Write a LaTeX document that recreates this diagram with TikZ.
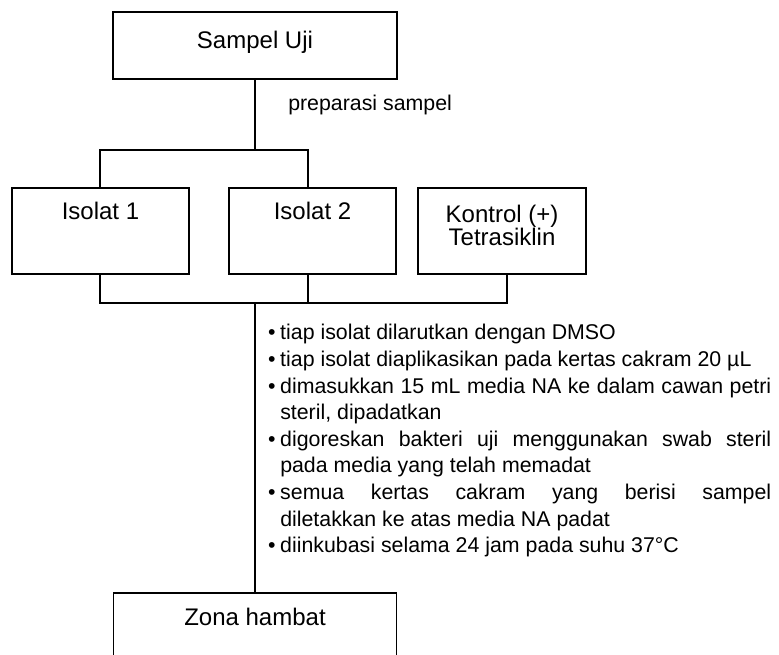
\documentclass[tikz,border=0pt]{standalone}
\usepackage{fontspec}
\setmainfont{Liberation Sans}

\newcommand{\stepitem}{\par\noindent\llap{\textbullet\hspace{3.5pt}}}

\begin{document}
\begin{tikzpicture}[x=0.75pt, y=-0.75pt,
  box/.style={draw, line width=1.3pt, inner sep=0pt, outer sep=0pt,
    anchor=north west, align=center,
    font=\fontsize{18}{16.5}\selectfont},
  conn/.style={line width=1.3pt},
  note/.style={inner sep=0pt, font=\fontsize{16}{19.95}\selectfont}]
\path[use as bounding box, clip] (0,0) rectangle (779,655);

% boxes
\node[box, minimum width=213pt, minimum height=50.25pt,
      text height=27.75pt, text depth=22.5pt] (uji) at (113,12) {Sampel Uji};
\node[box, minimum width=132.75pt, minimum height=64.5pt,
      text height=24pt, text depth=40.5pt] (iso1) at (12,188) {Isolat 1};
\node[box, minimum width=125.25pt, minimum height=64.5pt,
      text height=24pt, text depth=40.5pt] (iso2) at (229,188) {Isolat 2};
\node[box, minimum width=126pt, minimum height=64.5pt,
      text height=43.5pt, text depth=21pt] (kon) at (418,188) {Kontrol (+)\\Tetrasiklin};
\node[box, minimum width=212.25pt, minimum height=50.25pt,
      text height=24.75pt, text depth=25.5pt] (zona) at (113.5,593) {Zona hambat};

% labels
\node[note, anchor=base west] (prep) at (288,111) {preparasi sampel};
\node[note, anchor=north west, text width=368.25pt, align=justify] (steps) at (280,313) {%
  \stepitem tiap isolat dilarutkan dengan DMSO
  \stepitem tiap isolat diaplikasikan pada kertas cakram 20 µL
  \stepitem dimasukkan 15 mL media NA ke dalam cawan petri\linebreak steril, dipadatkan
  \stepitem digoreskan bakteri uji menggunakan swab steril\linebreak pada media yang telah memadat
  \stepitem semua kertas cakram yang berisi sampel\linebreak diletakkan ke atas media NA padat
  \stepitem diinkubasi selama 24 jam pada suhu 37°C\par};

% connector junctions
\coordinate (tl) at (100,150);
\coordinate (tr) at (308,150);
\coordinate (bl) at (100,303);
\coordinate (bm) at (308,303);
\coordinate (br) at (507,303);

% connectors
\draw[conn] (uji.south) -- (uji.south |- tl);
\draw[conn] (iso1.north -| tl) -- (tl) -- (tr) -- (iso2.north -| tr);
\draw[conn] (iso1.south -| bl) -- (bl) -- (br) -- (kon.south -| br);
\draw[conn] (iso2.south -| bm) -- (bm);
\draw[conn] (zona.north |- bl) -- (zona.north);
\end{tikzpicture}
\end{document}
